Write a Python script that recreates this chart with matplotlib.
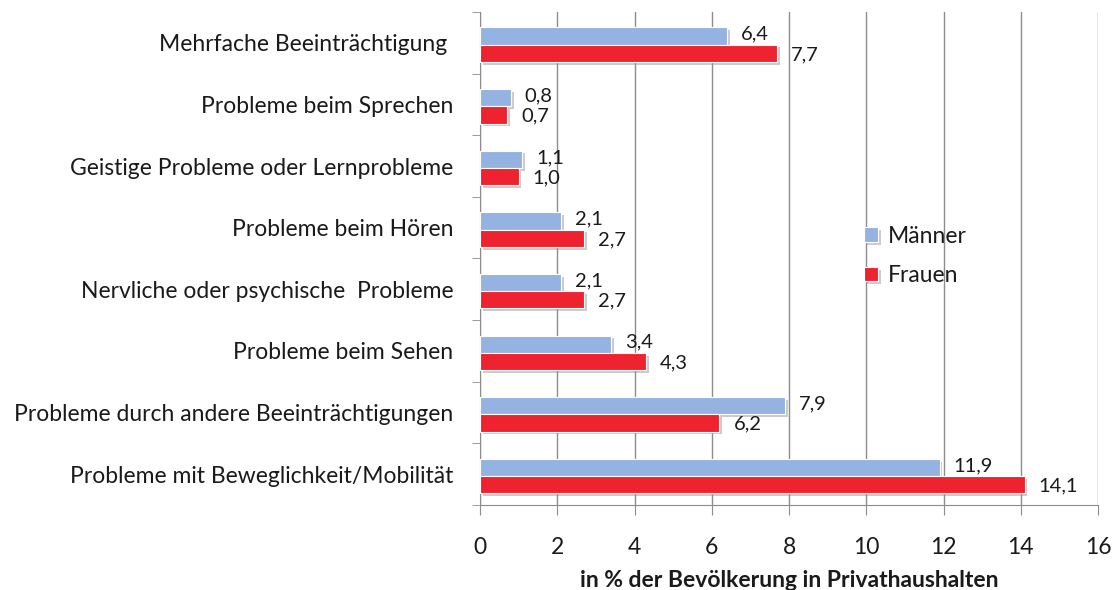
import matplotlib.pyplot as plt
import matplotlib.patheffects as pe
import numpy as np

plt.rcParams['font.family'] = ['Lato', 'DejaVu Sans']

kategorien = ['Mehrfache Beeinträchtigung ',
              'Probleme beim Sprechen',
              'Geistige Probleme oder Lernprobleme',
              'Probleme beim Hören',
              'Nervliche oder psychische  Probleme',
              'Probleme beim Sehen',
              'Probleme durch andere Beeinträchtigungen',
              'Probleme mit Beweglichkeit/Mobilität']
maenner = [6.4, 0.8, 1.1, 2.1, 2.1, 3.4, 7.9, 11.9]
frauen = [7.7, 0.7, 1.0, 2.7, 2.7, 4.3, 6.2, 14.1]

blau = '#95b3e0'
rot = '#ee232f'
txt = '#1a1a1a'
grau = '#8c8c8c'
fs = 16.5

fig = plt.figure(figsize=(11.15, 5.9), dpi=100)
ax = fig.add_axes([0.4305, 0.1441, 0.5543, 0.8356])

y = np.arange(len(kategorien))
h = 0.28
schatten = [pe.SimplePatchShadow(offset=(2, -2), shadow_rgbFace='#999999', alpha=0.5), pe.Normal()]

bm = ax.barh(y - h / 2 + 0.03, maenner, height=h, color=blau, edgecolor='white', lw=0.8,
             label='Männer', zorder=3)
bf = ax.barh(y + h / 2 + 0.03, frauen, height=h, color=rot, edgecolor='white', lw=0.8,
             label='Frauen', zorder=3)
for b in list(bm) + list(bf):
    b.set_path_effects(schatten)

# Werte rechts neben den Balken
for i in range(len(kategorien)):
    ax.annotate(f'{maenner[i]:.1f}'.replace('.', ','), (maenner[i], y[i] - h / 2 + 0.0),
                xytext=(10, 0), textcoords='offset points', va='center', ha='left',
                fontsize=14.5, color=txt, zorder=4)
    ax.annotate(f'{frauen[i]:.1f}'.replace('.', ','), (frauen[i], y[i] + h / 2 + 0.05),
                xytext=(10, 0), textcoords='offset points', va='center', ha='left',
                fontsize=14.5, color=txt, zorder=4)

ax.set_xlim(0, 16)
ax.set_ylim(len(kategorien) - 0.5, -0.5)
ax.set_xticks(np.arange(0, 17, 2))
ax.set_yticks(y)
ax.set_yticklabels(kategorien, fontsize=fs, color=txt)
ax.set_yticks(np.arange(-0.5, len(kategorien)), minor=True)
ax.tick_params(axis='y', which='major', length=0, pad=19)
ax.tick_params(axis='y', which='minor', length=6, color=grau, direction='out')
ax.tick_params(axis='x', length=7, color=grau, labelsize=fs, labelcolor=txt, pad=16)

ax.grid(axis='x', color=grau, lw=1, zorder=0)
for s in ['top', 'right']:
    ax.spines[s].set_visible(False)
for s in ['left', 'bottom']:
    ax.spines[s].set_color(grau)

ax.set_xlabel('in % der Bevölkerung in Privathaushalten', fontsize=fs,
              fontweight='bold', color=txt, labelpad=9)

leg = ax.legend(loc='center left', bbox_to_anchor=(0.588, 0.505), frameon=False,
                fontsize=fs, handlelength=0.6, handleheight=0.6, handletextpad=0.45,
                labelspacing=0.8)
for t in leg.get_texts():
    t.set_color(txt)

fig.savefig('out.png', dpi=100, facecolor='white')
